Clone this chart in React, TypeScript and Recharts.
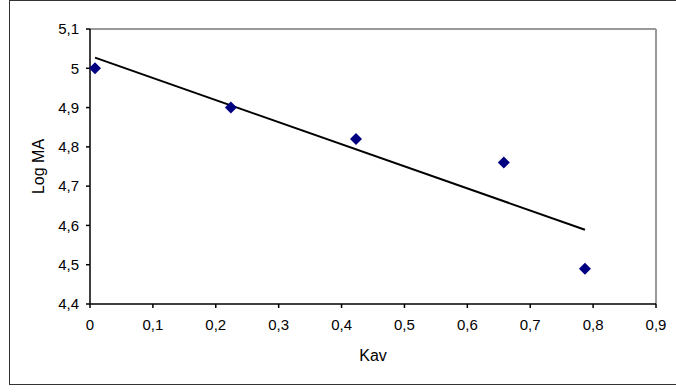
import React from 'react';
import { ScatterChart, Scatter, XAxis, YAxis, ReferenceLine } from 'recharts';

const kav = [0.008, 0.224, 0.423, 0.658, 0.787];
const logMA = [5.0, 4.9, 4.82, 4.76, 4.49];
const trendKav = [0.008, 0.787];
const trendLogMA = [5.027, 4.589];
const xTicks = [0, 0.1, 0.2, 0.3, 0.4, 0.5, 0.6, 0.7, 0.8, 0.9];
const yTicks = [4.4, 4.5, 4.6, 4.7, 4.8, 4.9, 5.0, 5.1];

const points = kav.map((x, i) => ({ x, y: logMA[i] }));
const trend = trendKav.map((x, i) => ({ x, y: trendLogMA[i] }));

const fmt = (v: number) => String(Math.round(v * 10) / 10).replace('.', ',');

const Diamond = (props: any) => {
  const { cx, cy } = props;
  const r = 6;
  return (
    <polygon
      points={`${cx},${cy - r} ${cx + r},${cy} ${cx},${cy + r} ${cx - r},${cy}`}
      fill="#000080"
    />
  );
};

const NoShape = () => <g />;

const tickStyle = { fontFamily: 'Liberation Sans, Arial, sans-serif', fontSize: 15, fill: '#000' };
const labelStyle = { fontFamily: 'Liberation Sans, Arial, sans-serif', fontSize: 16, fill: '#000' };

export default function App() {
  return (
    <div style={{ position: 'absolute', left: 0, top: 0, width: 676, height: 392, background: '#fff' }}>
      <div
        style={{
          position: 'absolute',
          left: 9,
          top: 0,
          width: 680,
          height: 385,
          border: '1px solid #333',
          boxSizing: 'border-box',
        }}
      />
      <div style={{ position: 'absolute', left: 0, top: 0 }}>
        <ScatterChart width={676} height={392} margin={{ top: 29, right: 20, bottom: 28, left: 0 }}>
          <XAxis
            type="number"
            dataKey="x"
            domain={[0, 0.9]}
            ticks={xTicks}
            tickFormatter={fmt}
            tick={tickStyle}
            tickSize={4}
            tickMargin={11}
            stroke="#000"
            strokeWidth={1.5}
            height={60}
            label={{ value: 'Kav', position: 'insideBottom', offset: 3, style: labelStyle }}
          />
          <YAxis
            type="number"
            dataKey="y"
            domain={[4.4, 5.1]}
            ticks={yTicks}
            tickFormatter={fmt}
            tick={tickStyle}
            tickSize={4}
            tickMargin={7}
            stroke="#000"
            strokeWidth={1.5}
            width={90}
            label={{ value: 'Log MA', angle: -90, position: 'insideLeft', offset: 38, style: { ...labelStyle, textAnchor: 'middle' } }}
          />
          <ReferenceLine y={5.1} stroke="#999" strokeWidth={2} />
          <ReferenceLine x={0.9} stroke="#999" strokeWidth={2} />
          <Scatter
            data={trend}
            line={{ stroke: '#000', strokeWidth: 2 }}
            shape={NoShape}
            isAnimationActive={false}
          />
          <Scatter data={points} shape={Diamond} isAnimationActive={false} />
        </ScatterChart>
      </div>
    </div>
  );
}
